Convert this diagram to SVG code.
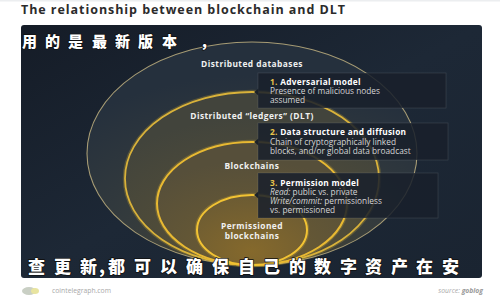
<svg xmlns="http://www.w3.org/2000/svg" width="500" height="300" viewBox="0 0 500 300">
<defs>
<linearGradient id="panelG" x1="0" y1="0" x2="1" y2="1">
<stop offset="0" stop-color="#151c27"/>
<stop offset="0.5" stop-color="#1d2836"/>
<stop offset="1" stop-color="#1a2431"/>
</linearGradient>
<radialGradient id="g1" cx="0.5" cy="0.95" r="0.8">
<stop offset="0" stop-color="#4a4530"/>
<stop offset="0.5" stop-color="#343b3d"/>
<stop offset="1" stop-color="#25303d"/>
</radialGradient>
<radialGradient id="g2" cx="0.5" cy="0.9" r="0.75">
<stop offset="0" stop-color="#5c5336"/>
<stop offset="1" stop-color="#42443c"/>
</radialGradient>
<radialGradient id="g3" cx="0.5" cy="0.9" r="0.75">
<stop offset="0" stop-color="#6e5d32"/>
<stop offset="1" stop-color="#564f3a"/>
</radialGradient>
<radialGradient id="g4" cx="0.5" cy="0.8" r="0.75">
<stop offset="0" stop-color="#85692c"/>
<stop offset="1" stop-color="#6d5c33"/>
</radialGradient>
<clipPath id="panelClip"><rect x="21" y="25" width="461" height="253" rx="3"/></clipPath>
<style>
.title{font-family:"Open Sans","DejaVu Sans",sans-serif;font-weight:700;font-size:12.5px;fill:#2b2b2b}
.lbl{font-family:"Open Sans","DejaVu Sans",sans-serif;font-weight:700;font-size:8.4px;fill:#f0f0f0;letter-spacing:0.45px;text-anchor:middle}
.bt{font-family:"Open Sans","DejaVu Sans",sans-serif;font-weight:700;font-size:8.3px;fill:#ffffff;letter-spacing:0.3px}
.bb{font-family:"Open Sans","DejaVu Sans",sans-serif;font-size:8.3px;fill:#d6d6d6}
.num{fill:#e6c24a}
.box{fill:#18202b;fill-opacity:0.86;stroke:#ffffff;stroke-opacity:0.12;stroke-width:0.8}
.ptr{fill:#1a212b}
.cjk{font-family:"Noto Sans CJK SC","Noto Sans CJK TC",sans-serif;font-weight:900;fill:#ffffff;stroke:#111;stroke-width:1.6px;paint-order:stroke;stroke-linejoin:round}
.foot{font-family:"Open Sans","DejaVu Sans",sans-serif;font-size:6.8px;fill:#a8a8a8}
.glow{fill:none;stroke:#f2c232;stroke-opacity:0.22;stroke-width:4.5}
</style>
</defs>
<rect width="500" height="300" fill="#ffffff"/>
<rect x="0" y="0" width="500" height="1.5" fill="#eceef0"/>
<text class="title" x="21" y="14" textLength="324">The relationship between blockchain and DLT</text>

<g id="panel">
<rect x="21" y="25" width="461" height="253" rx="3" fill="url(#panelG)"/>
</g>

<g clip-path="url(#panelClip)">
<g id="ring-databases">
<ellipse cx="252" cy="153.5" rx="165" ry="111.5" fill="url(#g1)" stroke="#a69b74" stroke-width="1.1"/>
</g>
<g id="ring-dlt">
<ellipse cx="252" cy="178.5" rx="127" ry="86.5" class="glow"/>
<ellipse cx="252" cy="178.5" rx="127" ry="86.5" fill="url(#g2)" stroke="#d9b23a" stroke-width="1.8"/>
</g>
<g id="ring-blockchains">
<ellipse cx="252" cy="203.5" rx="95" ry="61.5" class="glow"/>
<ellipse cx="252" cy="203.5" rx="95" ry="61.5" fill="url(#g3)" stroke="#e8b932" stroke-width="2"/>
</g>
<g id="ring-permissioned">
<ellipse cx="252" cy="230" rx="55" ry="35" class="glow"/>
<ellipse cx="252" cy="230" rx="55" ry="35" fill="url(#g4)" stroke="#f2c333" stroke-width="2"/>
</g>
</g>

<g id="labels">
<text class="lbl" x="252" y="67">Distributed databases</text>
<text class="lbl" x="252" y="119">Distributed “ledgers” (DLT)</text>
<text class="lbl" x="252" y="169">Blockchains</text>
<text class="lbl" x="252" y="229">Permissioned</text>
<text class="lbl" x="252" y="238.5">blockchains</text>
</g>

<g id="box1">
<rect class="box" x="258" y="73" width="188" height="35"/>
<text class="bt" x="270" y="84.5"><tspan class="num">1.</tspan> Adversarial model</text>
<text class="bb" x="270" y="94">Presence of malicious nodes</text>
<text class="bb" x="270" y="103">assumed</text>
</g>
<g id="box2">
<rect class="box" x="258" y="123" width="190" height="37"/>
<text class="bt" x="270" y="135"><tspan class="num">2.</tspan> Data structure and diffusion</text>
<text class="bb" x="270" y="145">Chain of cryptographically linked</text>
<text class="bb" x="270" y="154">blocks, and/or global data broadcast</text>
</g>
<g id="box3">
<rect class="box" x="258" y="173" width="180" height="45"/>
<text class="bt" x="270" y="186"><tspan class="num">3.</tspan> Permission model</text>
<text class="bb" x="270" y="195"><tspan font-style="italic">Read:</tspan> public vs. private</text>
<text class="bb" x="270" y="204"><tspan font-style="italic">Write/commit:</tspan> permissionless</text>
<text class="bb" x="270" y="213">vs. permissioned</text>
</g>

<g id="connectors">
<polygon class="ptr" points="254,92 258.5,88.5 258.5,95.5"/>
<polygon class="ptr" points="254,142 258.5,138.5 258.5,145.5"/>
<polygon class="ptr" points="254,195 258.5,191.5 258.5,198.5"/>
</g>

<g id="overlay-text">
<text class="cjk" font-size="15" x="22 45 68 92 115 138 162 200" y="47">用的是最新版本，</text>
<text class="cjk" font-size="17" x="28 54 80 99 108 134 160 186 212 238 263 289 314 340 365 391 416 442" y="273">查更新,都可以确保自己的数字资产在安</text>
</g>

<g id="footer">
<ellipse cx="29" cy="291" rx="7" ry="4" fill="#c9cfc4"/>
<ellipse cx="35" cy="291" rx="4" ry="3" fill="#e8e4a0"/>
<text class="foot" x="52" y="293">cointelegraph.com</text>
<text class="foot" x="483" y="293" text-anchor="end" font-style="italic">source: <tspan font-weight="700" fill="#9a9a9a">goblog</tspan></text>
</g>
</svg>
